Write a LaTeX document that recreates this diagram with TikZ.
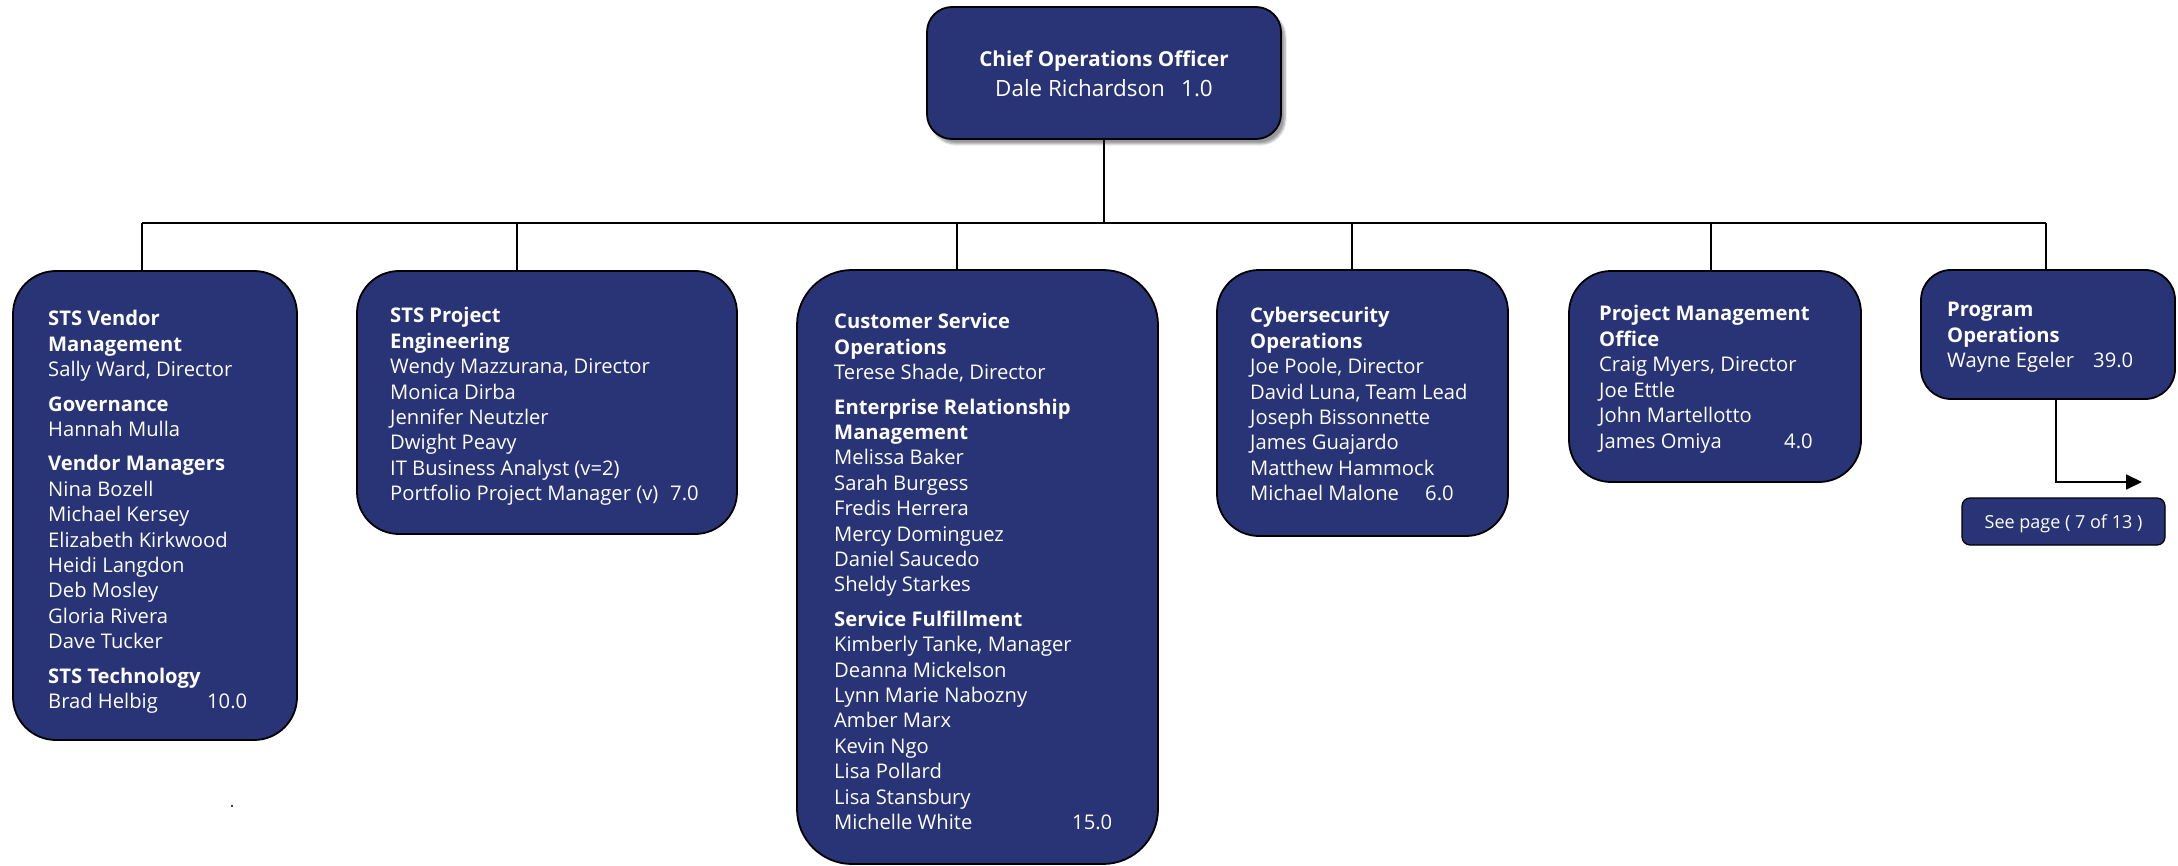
\documentclass[tikz,border=0pt]{standalone}
\usepackage{fontspec}
\setmainfont{Open Sans}
\usetikzlibrary{arrows.meta,shadows.blur}
\definecolor{navy}{RGB}{40,52,118}
\tikzset{
  orgbox/.style={draw=black, line width=1.8pt, fill=navy, inner sep=0pt},
  conn/.style={draw=black, line width=1.8pt},
  txt/.style={text=white, inner sep=0pt, anchor=base west},
}
\newcommand{\hd}[1]{\textbf{#1}}
\newcommand{\numat}[3]{\makebox[#1][l]{#2}#3}
\begin{document}
\begin{tikzpicture}[x=1pt,y=-1pt]
\useasboundingbox (0,0) rectangle (2178,866);
% boxes
\node[orgbox, rounded corners=25pt, minimum width=354pt, minimum height=132pt,
      blur shadow={shadow xshift=4pt, shadow yshift=-5pt, shadow blur steps=6}] (b0) at (1104,73) {};
\node[orgbox, rounded corners=43pt, minimum width=284pt, minimum height=469pt] (b1) at (155,505.5) {};
\node[orgbox, rounded corners=42pt, minimum width=380pt, minimum height=263pt] (b2) at (547,402.5) {};
\node[orgbox, rounded corners=55pt, minimum width=361pt, minimum height=594pt] (b3) at (977.5,567) {};
\node[orgbox, rounded corners=42pt, minimum width=291pt, minimum height=266pt] (b4) at (1362.5,403) {};
\node[orgbox, rounded corners=42pt, minimum width=292pt, minimum height=211pt] (b5) at (1715,376.5) {};
\node[orgbox, rounded corners=30pt, minimum width=254pt, minimum height=129pt] (b6) at (2048,334.5) {};
\node[orgbox, rounded corners=8pt, minimum width=203pt, minimum height=47pt, line width=1.2pt] (see) at (2063.5,521.5) {};
% junctions
\coordinate (j1) at (142,223);
\coordinate (j2) at (517,223);
\coordinate (j3) at (957,223);
\coordinate (j4) at (1352,223);
\coordinate (j5) at (1711,223);
\coordinate (j6) at (2046,223);
\coordinate (a1) at (2056,482);
\coordinate (a2) at (2142,482);
% connectors
\draw[conn] (b0.south) -- (b0.south |- j1);
\draw[conn] (j1) -- (j6);
\draw[conn] (j1) -- (j1 |- b1.north);
\draw[conn] (j2) -- (j2 |- b2.north);
\draw[conn] (j3) -- (j3 |- b3.north);
\draw[conn] (j4) -- (j4 |- b4.north);
\draw[conn] (j5) -- (j5 |- b5.north);
\draw[conn] (j6) -- (j6 |- b6.north);
\draw[conn, -{Triangle[length=16pt,width=15pt]}] (a1 |- b6.south) -- (a1) -- (a2);
% dot
\fill (232,806) circle (1.2pt);
% texts
\node[txt, anchor=base] (t0) at (1104,67) {\parbox[t]{340pt}{\centering
  \fontsize{20.6pt}{30pt}\selectfont\hd{Chief Operations Officer}\\
  \fontsize{22.4pt}{30pt}\selectfont\numat{186pt}{Dale Richardson}{1.0}}};
\node[txt] (t1) at (48,326) {\parbox[t]{240pt}{\raggedright\fontsize{20.2pt}{25.4pt}\selectfont
  \hd{STS Vendor}\\ \hd{Management}\\ Sally Ward, Director\\[9pt]
  \hd{Governance}\\ Hannah Mulla\\[9pt]
  \hd{Vendor Managers}\\ Nina Bozell\\ Michael Kersey\\ Elizabeth Kirkwood\\ Heidi Langdon\\ Deb Mosley\\ Gloria Rivera\\ Dave Tucker\\[9pt]
  \hd{STS Technology}\\ \numat{159pt}{Brad Helbig}{10.0}}};
\node[txt] (t2) at (390,323) {\parbox[t]{330pt}{\raggedright\fontsize{20.2pt}{25.4pt}\selectfont
  \hd{STS Project}\\ \hd{Engineering}\\ Wendy Mazzurana, Director\\ Monica Dirba\\ Jennifer Neutzler\\ Dwight Peavy\\ IT Business Analyst (v=2)\\ \numat{280pt}{Portfolio Project Manager (v)}{7.0}}};
\node[txt] (t3) at (834,329) {\parbox[t]{310pt}{\raggedright\fontsize{20.2pt}{25.4pt}\selectfont
  \hd{Customer Service}\\ \hd{Operations}\\ Terese Shade, Director\\[9pt]
  \hd{Enterprise Relationship}\\ \hd{Management}\\ Melissa Baker\\ Sarah Burgess\\ Fredis Herrera\\ Mercy Dominguez\\ Daniel Saucedo\\ Sheldy Starkes\\[9pt]
  \hd{Service Fulfillment}\\ Kimberly Tanke, Manager\\ Deanna Mickelson\\ Lynn Marie Nabozny\\ Amber Marx\\ Kevin Ngo\\ Lisa Pollard\\ Lisa Stansbury\\ \numat{238pt}{Michelle White}{15.0}}};
\node[txt] (t4) at (1250,323) {\parbox[t]{250pt}{\raggedright\fontsize{20.2pt}{25.4pt}\selectfont
  \hd{Cybersecurity}\\ \hd{Operations}\\ Joe Poole, Director\\ David Luna, Team Lead\\ Joseph Bissonnette\\ James Guajardo\\ Matthew Hammock\\ \numat{175pt}{Michael Malone}{6.0}}};
\node[txt] (t5) at (1599,321) {\parbox[t]{250pt}{\raggedright\fontsize{20.2pt}{25.4pt}\selectfont
  \hd{Project Management}\\ \hd{Office}\\ Craig Myers, Director\\ Joe Ettle\\ John Martellotto\\ \numat{185pt}{James Omiya}{4.0}}};
\node[txt] (t6) at (1947,317) {\parbox[t]{220pt}{\raggedright\fontsize{20.2pt}{25.4pt}\selectfont
  \hd{Program}\\ \hd{Operations}\\ \numat{146pt}{Wayne Egeler}{39.0}}};
\node[txt, anchor=base] (tsee) at (2063.5,528) {\fontsize{18pt}{22pt}\selectfont See page ( 7 of 13 )};
\end{tikzpicture}
\end{document}
